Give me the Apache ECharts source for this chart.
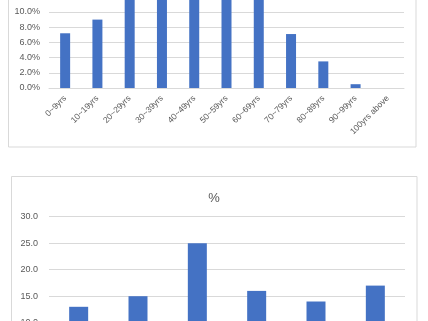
<!DOCTYPE html>
<html>
<head>
<meta charset="utf-8">
<script src="https://cdn.jsdelivr.net/npm/echarts@6/dist/echarts.min.js"></script>
<style>
html,body{margin:0;padding:0;background:#fff;}
#c{width:428px;height:321px;}
</style>
</head>
<body>
<div id="c"></div>
<script>
// Top chart: age distribution (%)
var ageCategories = ['0~9yrs','10~19yrs','20~29yrs','30~39yrs','40~49yrs','50~59yrs','60~69yrs','70~79yrs','80~89yrs','90~99yrs','100yrs above'];
var ageValues = [7.2, 9.0, 13.5, 14.5, 16.0, 15.5, 13.5, 7.1, 3.5, 0.5, 0.0];
var ageTicks = [0, 2, 4, 6, 8, 10, 12];

// Bottom chart: "%"
var bottomTitle = '%';
var bottomCategories = ['A','B','C','D','E','F'];
var bottomValues = [13.0, 15.0, 25.0, 16.0, 14.0, 17.0];
var bottomTicks = [10, 15, 20, 25, 30];

var FONT = 'Liberation Sans, Arial, sans-serif';
var LABEL = '#595959';
var GRID = '#d9d9d9';
var BLUE = '#4472C4';

var chart = echarts.init(document.getElementById('c'), null, {renderer: 'canvas'});
chart.setOption({
  animation: false,
  backgroundColor: '#fff',
  title: {
    text: bottomTitle,
    left: 'center',
    top: 187,
    textStyle: {fontFamily: FONT, fontSize: 13, fontWeight: 'normal', color: LABEL}
  },
  graphic: [
    {type: 'rect', shape: {x: 8.5, y: -10, width: 407.5, height: 157}, style: {fill: 'none', stroke: GRID, lineWidth: 1}, z: -1},
    {type: 'rect', shape: {x: 11.5, y: 176.5, width: 405.5, height: 160}, style: {fill: 'none', stroke: GRID, lineWidth: 1}, z: -1}
  ],
  grid: [
    {left: 49, width: 355, top: -3.2, height: 91.2, containLabel: false, outerBoundsMode: 'none'},
    {left: 49, width: 356, top: 216.7, height: 106, containLabel: false, outerBoundsMode: 'none'}
  ],
  xAxis: [
    {
      type: 'category', gridIndex: 0, data: ageCategories,
      axisLine: {lineStyle: {color: GRID}},
      axisTick: {show: false},
      axisLabel: {rotate: 45, margin: 9, fontSize: 8.5, color: LABEL, fontFamily: FONT, interval: 0}
    },
    {
      type: 'category', gridIndex: 1, data: bottomCategories,
      axisLine: {lineStyle: {color: GRID}},
      axisTick: {show: false},
      axisLabel: {fontSize: 9, color: LABEL, fontFamily: FONT}
    }
  ],
  yAxis: [
    {
      type: 'value', gridIndex: 0,
      min: ageTicks[0], max: ageTicks[ageTicks.length - 1], interval: 2,
      axisLine: {show: false}, axisTick: {show: false},
      splitLine: {lineStyle: {color: GRID}},
      axisLabel: {
        margin: 9, fontSize: 9, color: LABEL, fontFamily: FONT,
        formatter: function (v) { return v >= 12 ? '' : v.toFixed(1) + '%'; }
      }
    },
    {
      type: 'value', gridIndex: 1,
      min: bottomTicks[0], max: bottomTicks[bottomTicks.length - 1], interval: 5,
      axisLine: {show: false}, axisTick: {show: false},
      splitLine: {lineStyle: {color: GRID}},
      axisLabel: {
        margin: 11, fontSize: 9, color: LABEL, fontFamily: FONT,
        formatter: function (v) { return v.toFixed(1); }
      }
    }
  ],
  series: [
    {
      type: 'bar', xAxisIndex: 0, yAxisIndex: 0, data: ageValues,
      barWidth: 10, itemStyle: {color: BLUE}
    },
    {
      type: 'bar', xAxisIndex: 1, yAxisIndex: 1, data: bottomValues,
      barWidth: 19, itemStyle: {color: BLUE}
    }
  ]
});
</script>
</body>
</html>
